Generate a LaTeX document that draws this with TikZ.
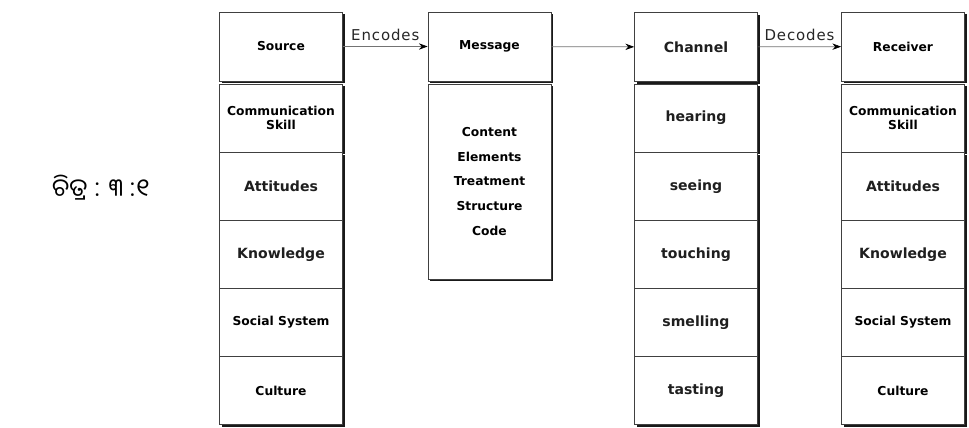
\documentclass[tikz,border=0pt]{standalone}
\usepackage{fontspec}
\setmainfont{DejaVu Sans}
\newfontfamily\oriyafont[Script=Oriya]{Noto Sans Oriya UI}
\usetikzlibrary{shadows, arrows.meta}

\begin{document}
\begin{tikzpicture}[x=0.02cm, y=-0.02cm,
	cell/.style={draw=black!75, fill=white, rectangle, minimum width=2.46cm, minimum height=1.36cm, inner sep=1pt, align=center, font=\fontsize{7}{8}\selectfont\bfseries, drop shadow={shadow xshift=1.4pt, shadow yshift=-1.4pt, opacity=0.9, fill=black}},
	head/.style={cell, minimum height=1.38cm},
	sense/.style={cell, text=black!88, font=\fontsize{8}{9}\selectfont\bfseries},
	flow/.style={-{Stealth[length=5pt, width=3.6pt, black]}, draw=black!55, thin},
	verb/.style={midway, above, text=black!85, font=\fontsize{8.5}{9}\selectfont\addfontfeature{LetterSpace=6}}]
				\useasboundingbox (0,0) rectangle (969,427);
				\node[font=\oriyafont\fontsize{14}{17}\selectfont] (fig)at(101, 188) {ଚିତ୍ର : ୩ :୧};
				% source column
				\node[head] (source)at(281, 46.5) {Source};
				\node[cell] (sskill)at(281, 118) {Communication\\Skill};
				\node[sense] (satt)at(281, 186.5) {Attitudes};
				\node[sense] (sknow)at(281, 254.5) {Knowledge};
				\node[cell] (ssoc)at(281, 322.5) {Social System};
				\node[cell] (scult)at(281, 390.5) {Culture};
				% message column
				\node[head] (message)at(489.5, 46.5) {Message};
				\node[cell, minimum height=3.9cm, font=\fontsize{7}{14.2}\selectfont\bfseries] (mbody)at(489.5, 181.5) {Content\\Elements\\Treatment\\Structure\\Code};
				% channel column
				\node[head, text=black!88, font=\fontsize{8}{9}\selectfont\bfseries] (channel)at(696, 47) {Channel};
				\node[sense] (hear)at(696, 118) {hearing};
				\node[sense] (see)at(696, 186.5) {seeing};
				\node[sense] (touch)at(696, 254.5) {touching};
				\node[sense] (smell)at(696, 322.5) {smelling};
				\node[sense] (taste)at(696, 390.5) {tasting};
				% receiver column
				\node[head] (receiver)at(903, 46.5) {Receiver};
				\node[cell] (rskill)at(903, 118) {Communication\\Skill};
				\node[sense] (ratt)at(903, 186.5) {Attitudes};
				\node[sense] (rknow)at(903, 254.5) {Knowledge};
				\node[cell] (rsoc)at(903, 322.5) {Social System};
				\node[cell] (rcult)at(903, 390.5) {Culture};
				% arrows
				\draw[flow] (source) -- (message) node[verb] {Encodes};
				\draw[flow] (message) -- (channel);
				\draw[flow] (channel) -- (receiver) node[verb] {Decodes};
			\end{tikzpicture}
\end{document}
